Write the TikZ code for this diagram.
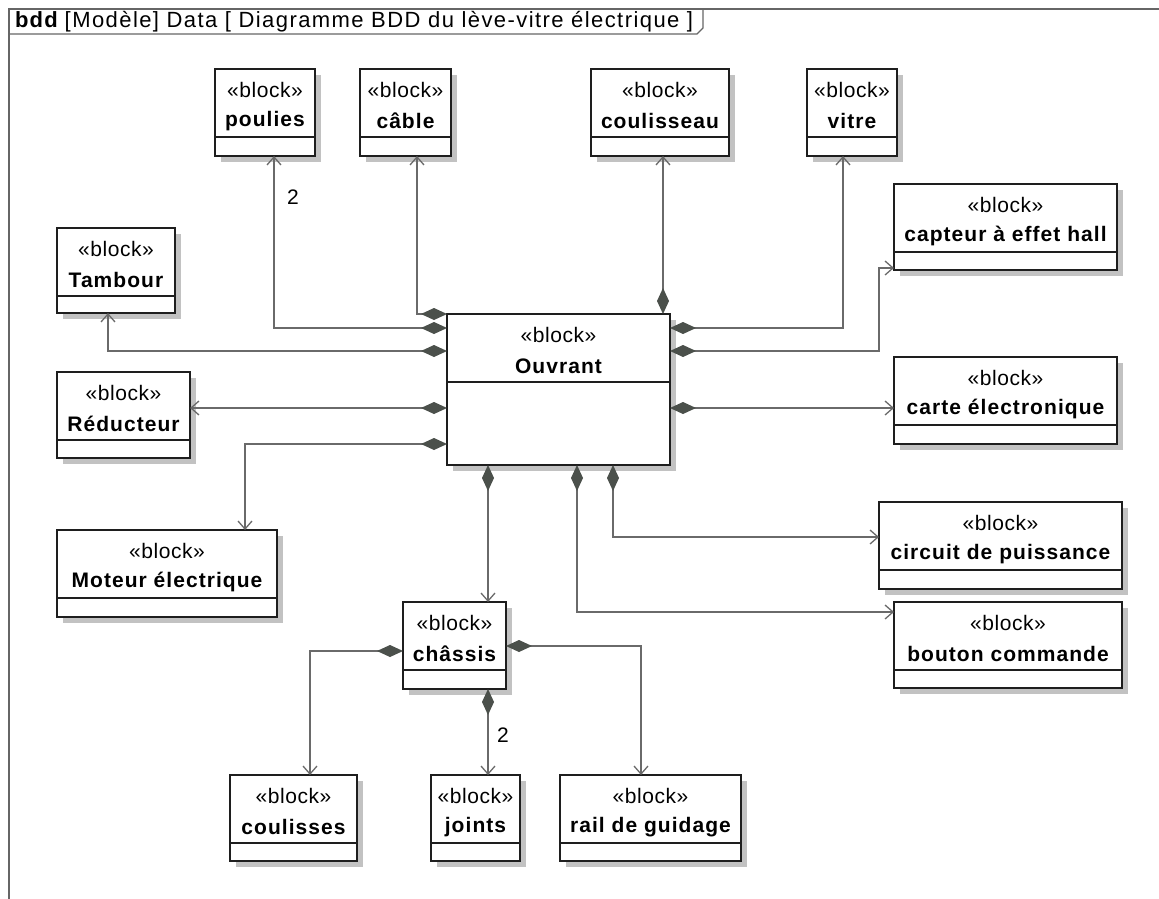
\documentclass[tikz,border=0pt]{standalone}
\usepackage{fontspec}
\setmainfont{Liberation Sans}
\newfontfamily\stfont{Liberation Sans}[LetterSpace=2.5]
\newfontfamily\nmfont{Liberation Sans}[LetterSpace=5]
\newfontfamily\hdfont{Liberation Sans}[LetterSpace=6.5]
\usetikzlibrary{arrows.meta,calc}

\definecolor{lnc}{HTML}{6A6A6A}
\definecolor{diac}{HTML}{4B504B}
\definecolor{brd}{HTML}{1E1E1E}
\definecolor{shd}{HTML}{C2C2C2}
\definecolor{frm}{HTML}{666666}

\tikzset{
  blockbox/.style={rectangle, draw=brd, line width=1.6pt, fill=white, inner sep=0pt, outer sep=0pt},
  sepline/.style={draw=brd, line width=1.4pt},
  stereo/.style={font=\stfont\fontsize{21}{24}\selectfont, inner sep=0pt, text=black},
  bname/.style={font=\nmfont\bfseries\fontsize{21}{24}\selectfont, inner sep=0pt, text=black},
  mult/.style={font=\fontsize{21}{24}\selectfont, inner sep=0pt, text=black},
  comp/.style={draw=lnc, line width=1.3pt,
    arrows={Diamond[length=26pt, width=12pt, fill=diac, color=diac]-Straight Barb[length=8pt, width=14pt, color=lnc]}},
  framel/.style={draw=frm, line width=1.3pt},
}

% #1 name, #2 x, #3 y (top-left), #4 width, #5 height, #6 block name
\newcommand{\umlblock}[6]{%
  \fill[shd] (#2+6,#3+6) rectangle ++(#4,#5);
  \node[blockbox, minimum width=#4pt, minimum height=#5pt, anchor=north west] (#1) at (#2,#3) {};
  \draw[sepline] ([yshift=-68pt]#1.north west) -- ([yshift=-68pt]#1.north east);
  \node[stereo] (#1-st) at ([yshift=-21pt]#1.north) {«block»};
  \node[bname] (#1-nm) at ([yshift=-52pt]#1.north) {#6};
}

\begin{document}
\begin{tikzpicture}[x=1pt, y=-1pt]
\useasboundingbox (0,0) rectangle (1159,899);

% diagram frame and header tab
\node[anchor=west, inner sep=0pt, font=\hdfont\fontsize{22}{25}\selectfont] (hdr) at (15,22)
  {{\nmfont\bfseries bdd}\hspace{7pt}[Modèle] Data [ Diagramme BDD du lève-vitre électrique ]};
\coordinate (tabR) at (703,9);
\draw[framel] (9,899) -- (9,9) -- (1159,9);
\draw[framel] (9,34) -- ($(tabR |- 0,34)+(-6,0)$) -- (tabR |- 0,28) -- (tabR);

% blocks
\umlblock{poulies}{215}{69}{100}{87}{poulies}
\umlblock{cable}{360}{69}{91}{87}{câble}
\umlblock{coulisseau}{591}{69}{138}{87}{coulisseau}
\umlblock{vitre}{807}{69}{90}{87}{vitre}
\umlblock{capteur}{894}{184}{223}{86}{capteur à effet hall}
\umlblock{tambour}{57}{228}{118}{85}{Tambour}
\umlblock{reducteur}{57}{372}{133}{86}{Réducteur}
\umlblock{ouv}{447}{314}{223}{151}{Ouvrant}
\umlblock{carte}{894}{357}{223}{87}{carte électronique}
\umlblock{moteur}{57}{530}{220}{87}{Moteur électrique}
\umlblock{circuit}{879}{502}{243}{87}{circuit de puissance}
\umlblock{bouton}{894}{602}{228}{86}{bouton commande}
\umlblock{chassis}{403}{602}{103}{87}{châssis}
\umlblock{coulisses}{230}{775}{127}{86}{coulisses}
\umlblock{joints}{431}{775}{89}{86}{joints}
\umlblock{rail}{560}{775}{181}{86}{rail de guidage}

% composition links of Ouvrant
\draw[comp] (ouv.north west) -| (cable.south -| 417,0);
\draw[comp] (ouv.west |- 0,328) -| (poulies.south -| 274,0);
\draw[comp] (ouv.west |- 0,351) -| (tambour.south -| 108,0);
\draw[comp] (ouv.west |- 0,408) -- (reducteur.east |- 0,408);
\draw[comp] (ouv.west |- 0,444) -| (moteur.north -| 245,0);
\draw[comp] (ouv.north -| 663,0) -- (coulisseau.south -| 663,0);
\draw[comp] (ouv.east |- 0,328) -| (vitre.south -| 843,0);
\coordinate (capbend) at (879,351);
\draw[comp] (ouv.east |- 0,351) -- (capbend) |- (capteur.west |- 0,268);
\draw[comp] (ouv.east |- 0,408) -- (carte.west |- 0,408);
\draw[comp] (ouv.south -| 613,0) |- (circuit.west |- 0,537);
\draw[comp] (ouv.south -| 577,0) |- (bouton.west |- 0,612);
\draw[comp] (ouv.south -| 488,0) -- (chassis.north -| 488,0);

% composition links of châssis
\draw[comp] (chassis.west |- 0,651) -| (coulisses.north -| 310,0);
\draw[comp] (chassis.south -| 488,0) -- (joints.north -| 488,0);
\draw[comp] (chassis.east |- 0,646) -| (rail.north -| 641,0);

% multiplicities
\node[mult] (m-poulies) at (293,197) {2};
\node[mult] (m-joints) at (503,735) {2};
\end{tikzpicture}
\end{document}
